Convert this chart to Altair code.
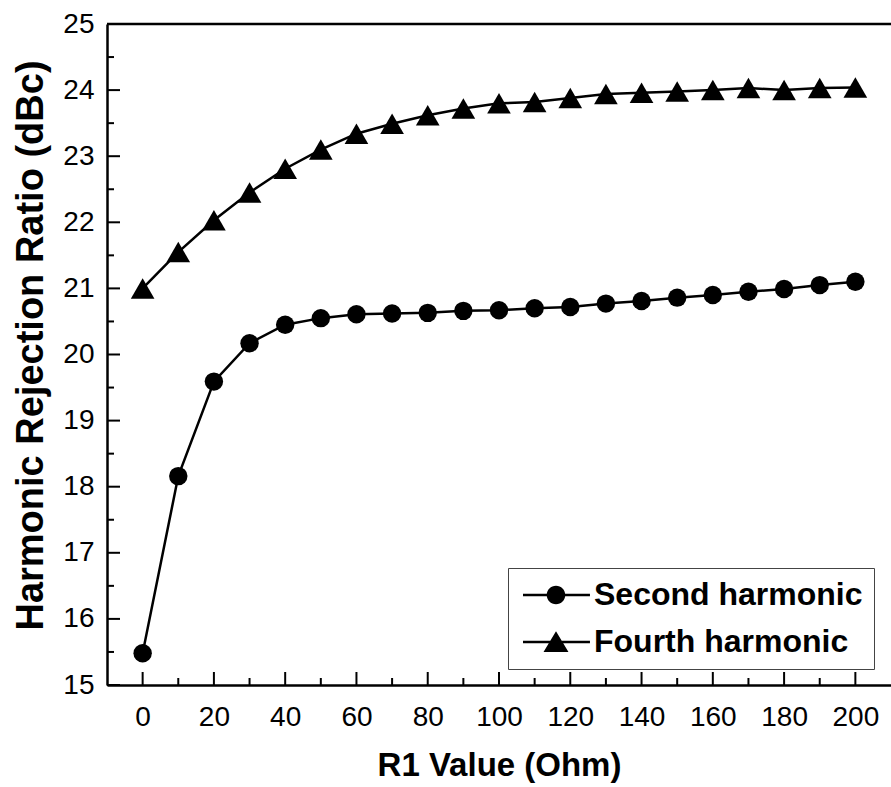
import altair as alt
import pandas as pd

# ---- data ----
r1_values = list(range(0, 201, 10))
second_harmonic = [15.48, 18.16, 19.59, 20.17, 20.45, 20.55, 20.61, 20.62, 20.63, 20.66, 20.67,
                   20.70, 20.72, 20.77, 20.81, 20.86, 20.90, 20.95, 20.99, 21.05, 21.10]
fourth_harmonic = [21.00, 21.55, 22.03, 22.45, 22.81, 23.10, 23.34, 23.49, 23.62, 23.72, 23.80,
                   23.82, 23.88, 23.94, 23.96, 23.98, 24.00, 24.03, 24.00, 24.03, 24.04]
series_names = ["Second harmonic", "Fourth harmonic"]

x_major = list(range(0, 201, 20))
x_minor = list(range(10, 200, 20))
y_major = list(range(15, 26))
y_minor = [15.5 + i for i in range(10)]

df = pd.DataFrame({
    "r1": r1_values * 2,
    "v": second_harmonic + fourth_harmonic,
    "series": [series_names[0]] * len(r1_values) + [series_names[1]] * len(r1_values),
})

W, H = 784, 661
FONT = "Liberation Sans"

xscale = alt.Scale(domain=[-10, 210], nice=False, zero=False)
yscale = alt.Scale(domain=[15, 25], nice=False, zero=False)

xaxis = alt.Axis(values=x_major, ticks=False, grid=False, domainColor="black", domainWidth=2.5,
                 labelFont=FONT, labelFontSize=28, labelColor="black", labelPadding=18,
                 labelFlush=False, labelOverlap=False,
                 title="R1 Value (Ohm)", titleFont=FONT, titleFontSize=33, titleFontWeight="bold",
                 titleColor="black", titleX=W / 2, titleY=90, titleBaseline="alphabetic",
                 titleAlign="center")
yaxis = alt.Axis(values=y_major, ticks=False, grid=False, domainColor="black", domainWidth=2.5,
                 labelFont=FONT, labelFontSize=28, labelColor="black", labelPadding=13,
                 labelFlush=False, labelOverlap=False,
                 title="Harmonic Rejection Ratio (dBc)", titleFont=FONT, titleFontSize=38,
                 titleFontWeight="bold", titleColor="black", titleX=-65, titleY=321,
                 titleAngle=270, titleBaseline="alphabetic", titleAlign="center")

X = alt.X("r1:Q", scale=xscale, axis=xaxis)
Y = alt.Y("v:Q", scale=yscale, axis=yaxis)

lines = alt.Chart(df).mark_line(color="black", strokeWidth=2.5).encode(
    x=X, y=Y, detail="series:N")

points = alt.Chart(df).mark_point(filled=True, color="black", opacity=1).encode(
    x=X, y=Y,
    shape=alt.Shape("series:N", scale=alt.Scale(domain=series_names, range=["circle", "triangle-up"]),
                    legend=None),
    size=alt.Size("series:N", scale=alt.Scale(domain=series_names, range=[340, 560]), legend=None),
)

# legend symbols: line segment (thin filled bar) with the marker on it
circle_sym = ("M-1,-0.1H4.58V0.1H-1Z"
              "M2.525,0A0.775,0.775,0,1,1,0.975,0A0.775,0.775,0,1,1,2.525,0Z")
tri_sym = "M-1,-0.1H4.58V0.1H-1ZM1.75,-0.89L2.79,0.83L0.71,0.83Z"

legend_layer = alt.Chart(df).mark_point(filled=True, color="black", opacity=0).encode(
    x=X, y=Y,
    shape=alt.Shape("series:N", scale=alt.Scale(domain=series_names, range=[circle_sym, tri_sym]),
                    legend=alt.Legend(orient="none", legendX=401, legendY=544, direction="vertical",
                                      title=None, symbolSize=576, symbolOpacity=1,
                                      symbolFillColor="black", symbolStrokeWidth=0,
                                      labelFont=FONT, labelFontSize=32,
                                      labelFontWeight="bold", labelColor="black", labelOffset=43,
                                      labelLimit=400, padding=11, rowPadding=15,
                                      strokeColor="#444444")),
)

tick_x_major = pd.DataFrame({"r1": x_major})
tick_x_minor = pd.DataFrame({"r1": x_minor})
tick_y_major = pd.DataFrame({"v": y_major})
tick_y_minor = pd.DataFrame({"v": y_minor})

xt_major = alt.Chart(tick_x_major).mark_rule(color="black", strokeWidth=2).encode(
    x=X, y=alt.value(H), y2=alt.value(H - 13))
xt_minor = alt.Chart(tick_x_minor).mark_rule(color="black", strokeWidth=2).encode(
    x=X, y=alt.value(H), y2=alt.value(H - 7))
yt_major = alt.Chart(tick_y_major).mark_rule(color="black", strokeWidth=2).encode(
    y=Y, x=alt.value(0), x2=alt.value(13))
yt_minor = alt.Chart(tick_y_minor).mark_rule(color="black", strokeWidth=2).encode(
    y=Y, x=alt.value(0), x2=alt.value(7))
top_border = alt.Chart(pd.DataFrame({"a": [0]})).mark_rule(color="black", strokeWidth=2.5).encode(
    x=alt.value(0), x2=alt.value(W), y=alt.value(0))

chart = alt.layer(
    lines, points, legend_layer, xt_major, xt_minor, yt_major, yt_minor, top_border
).resolve_scale(shape="independent", size="independent").properties(
    width=W, height=H,
    padding={"left": 107, "top": 24, "right": 0, "bottom": 787 - 24 - H},
    autosize=alt.AutoSizeParams(type="none"),
    background="white",
).configure_view(stroke=None).configure_legend(strokeWidth=1.2).configure(font=FONT)

chart.save("out.html", embed_options={"renderer": "svg", "actions": False})
